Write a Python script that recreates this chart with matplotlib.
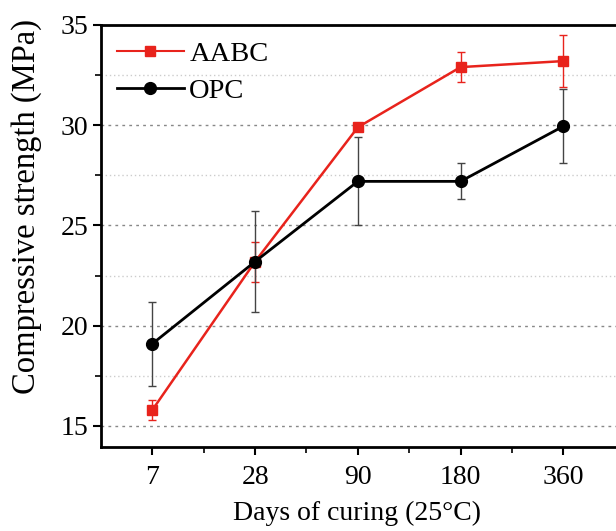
import matplotlib.pyplot as plt
from matplotlib.lines import Line2D
import numpy as np

# curing age (days) and compressive strength (MPa)
days = ['7', '28', '90', '180', '360']
aabc = [15.8, 23.2, 29.9, 32.9, 33.2]
aabc_err = [0.5, 1.0, 0.2, 0.75, 1.3]
opc = [19.1, 23.2, 27.2, 27.2, 29.95]
opc_err = [2.1, 2.5, 2.2, 0.9, 1.85]

plt.rcParams['font.family'] = ['Liberation Serif', 'DejaVu Serif']

fig = plt.figure(figsize=(6.16, 5.31), dpi=100)
ax = fig.add_axes([101 / 616, 84 / 531, 524 / 616, 422 / 531])

x = np.arange(len(days))
red = '#e8231c'
ax.errorbar(x, aabc, yerr=aabc_err, color=red, marker='s', markersize=7.5,
            linewidth=1.8, ecolor=red, elinewidth=1, capsize=3, zorder=3)
ax.errorbar(x, opc, yerr=opc_err, color='black', marker='o', markersize=8.5,
            linewidth=2, ecolor='#444444', elinewidth=1, capsize=3, zorder=4)

ax.set_xlim(-0.5, 4.6)
ax.set_ylim(13.95, 35)
ax.set_xticks(x)
ax.set_xticklabels(days)
ax.set_xticks(x[:-1] + 0.5, minor=True)
ax.set_yticks([15, 20, 25, 30, 35])
ax.set_yticks([17.5, 22.5, 27.5, 32.5], minor=True)

ax.grid(axis='y', which='major', color='#888888', linestyle=(0, (2, 3)), linewidth=1)
ax.grid(axis='y', which='minor', color='#cccccc', linestyle=(0, (1, 2)), linewidth=1)

ax.tick_params(which='major', direction='out', length=6, width=1.5, labelsize=20)
ax.tick_params(axis='x', which='major', pad=7)
ax.tick_params(axis='y', which='major', pad=3)
ax.tick_params(which='minor', direction='out', length=4, width=1.2)
for s in ax.spines.values():
    s.set_linewidth(2)
ax.spines['right'].set_visible(False)

ax.set_xlabel('Days of curing (25°C)', fontsize=20)
ax.set_ylabel('Compressive strength (MPa)', fontsize=23.5)
ax.xaxis.set_label_coords(0.489, -0.128)
ax.yaxis.set_label_coords(-0.112, 0.569)

handles = [
    Line2D([], [], color=red, marker='s', markersize=7.5, linewidth=1.5),
    Line2D([], [], color='black', marker='o', markersize=8.5, linewidth=2),
]
ax.legend(handles, ['AABC', 'OPC'], loc='upper left', frameon=False, fontsize=20.5,
          handlelength=2.35, handletextpad=0.2, borderaxespad=0.15, labelspacing=0.4)

plt.savefig('out.png')
